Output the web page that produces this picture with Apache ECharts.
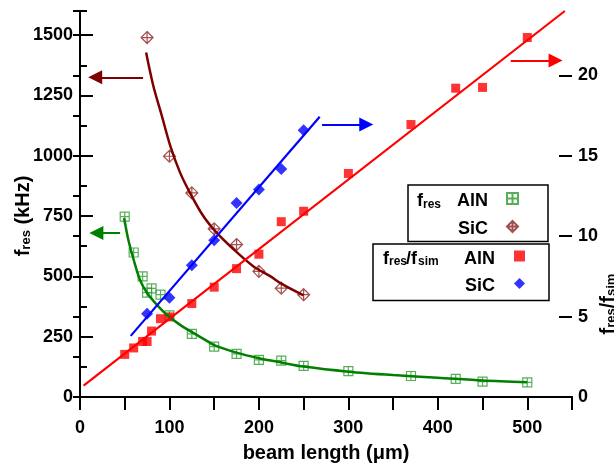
<!DOCTYPE html>
<html>
<head>
<meta charset="utf-8">
<script src="https://cdn.jsdelivr.net/npm/echarts@6/dist/echarts.min.js"></script>
<style>
  html, body { margin: 0; padding: 0; background: #fff; }
  #chart { width: 614px; height: 466px; }
</style>
</head>
<body>
<div id="chart"></div>
<script>
// beam lengths (um) of the measured cantilevers
var xAlN = [50, 60, 70, 75, 80, 90, 100, 125, 150, 175, 200, 225, 250, 300, 370, 420, 450, 500]
var xSiC = [75, 100, 125, 150, 175, 200, 225, 250]

// f_res in kHz (left axis)
var fresAlN = [748, 599, 500, 433, 450, 424, 338, 262, 209, 179, 154, 151, 129, 107, 87, 75, 64, 61]
var fresSiC = [1490, 998, 846, 697, 632, 521, 451, 424]

// f_res / f_sim (right axis)
var ratioAlN = [2.65, 3.05, 3.45, 3.45, 4.1, 4.87, 4.98, 5.81, 6.83, 7.98, 8.88, 10.9, 11.55, 13.9, 16.94, 19.2, 19.25, 22.35]
var ratioSiC = [5.17, 6.17, 8.19, 9.75, 12.06, 12.9, 14.17, 16.58]

// fitted curves
var fitAlNx = [49.3, 54, 60, 67, 75, 86, 97, 112, 127, 140, 150, 175, 200, 225, 250, 300, 350, 400, 450, 500]
var fitAlNy = [742, 652, 569, 486, 431, 382, 341, 299, 265, 237, 215, 184, 161, 143, 126, 105, 91, 80, 68, 61]
var fitSiCx = [73.9, 82, 91.5, 101, 112, 123, 138, 153, 172, 194, 213, 225, 250]
var fitSiCy = [1428, 1289, 1165, 1040, 929, 846, 749, 680, 611, 541, 500, 470, 421]
var fitRatioAlNx = [4, 542]
var fitRatioAlNy = [0.7, 24]
var fitRatioSiCx = [56.7, 268]
var fitRatioSiCy = [3.8, 17.43]

// tick labels
var xTicks = [0, 100, 200, 300, 400, 500]
var leftTicks = [0, 250, 500, 750, 1000, 1250, 1500]
var rightTicks = [0, 5, 10, 15, 20]

var FONT = '"Liberation Sans", Arial, sans-serif'
var GREEN = '#008000'
var GREEN_MK = '#2f9a2f'
var DRED = '#7f0000'
var DRED_MK = '#8b2323'
var RED = '#ff0000'
var BLUE = '#0000ff'

function zip (xs, ys) {
  return xs.map(function (x, i) { return [x, ys[i]] })
}

var titleRich = {
  f: { fontSize: 20, fontWeight: 'bold', fontFamily: FONT, color: '#000', lineHeight: 30, verticalAlign: 'bottom' },
  s: { fontSize: 13, fontWeight: 'bold', fontFamily: FONT, color: '#000', lineHeight: 6, verticalAlign: 'bottom' }
}

function tok (size, width, extra) {
  var t = { fontSize: size, fontWeight: 'bold', fontFamily: FONT, color: '#000', align: 'left', verticalAlign: 'bottom', lineHeight: size > 14 ? 24 : 6, width: width }
  return Object.assign(t, extra || {})
}

var legendRich = {
  f: tok(18, 6),
  s: tok(12, 17),
  s1: tok(12, 28),
  sl: tok(18, 12),
  s2: tok(12, 40),
  n: tok(18, 37, { align: 'right' }),
  m1: tok(18, 71, { align: 'right' }),
  m2: tok(18, 112, { align: 'right' }),
  g: tok(18, 14, { align: 'right' })
}

var legendLabels = {
  'AlN fres': '{f|f}{s1|res}{n|AlN}{g| }',
  'SiC fres': '{m1|SiC}{g| }',
  'AlN ratio': '{f|f}{s|res}{sl|/f}{s2|sim}{n|AlN}{g| }',
  'SiC ratio': '{m2|SiC}{g| }'
}

var boxSym = 'path://M0,0 L10,0 L10,10 L0,10 Z M5,0 L5,10 M0,5 L10,5'
var diaSym = 'path://M5,0 L10,5 L5,10 L0,5 Z M5,0 L5,10 M0,5 L10,5'

function arrow (color, from, to) {
  return {
    silent: true,
    symbol: ['none', 'triangle'],
    symbolSize: 14,
    label: { show: false },
    lineStyle: { color: color, width: 2, type: 'solid' },
    emphasis: { disabled: true },
    data: [[{ coord: from }, { coord: to }]]
  }
}

function plain (v) { return String(v) }

var axisLineStyle = { show: true, lineStyle: { color: '#000', width: 2 } }
var labelStyle = { fontSize: 18, fontWeight: 'bold', fontFamily: FONT, color: '#000', formatter: plain }

var option = {
  animation: false,
  backgroundColor: '#fff',
  grid: { left: 80, right: 42, top: 11, bottom: 69, outerBoundsMode: 'none', containLabel: false },
  xAxis: [
    {
      type: 'value', position: 'bottom', min: 0, max: 550, interval: 50,
      splitLine: { show: false },
      axisLine: axisLineStyle,
      axisTick: { inside: false, length: 7, lineStyle: { width: 2, color: '#000' } },
      axisLabel: Object.assign({ customValues: xTicks, margin: 22 }, labelStyle),
      name: 'beam length (\u03bcm)',
      nameLocation: 'middle',
      nameGap: 46,
      nameMoveOverlap: false,
      nameTextStyle: { fontSize: 20, fontWeight: 'bold', fontFamily: FONT, color: '#000' }
    },
    {
      type: 'value', position: 'bottom', min: 0, max: 550,
      splitLine: { show: false },
      axisLine: { show: false },
      axisTick: { inside: false, length: 13, customValues: xTicks, lineStyle: { width: 2, color: '#000' } },
      axisLabel: { show: false }
    },
    {
      type: 'value', position: 'top', min: 0, max: 550, interval: 50,
      splitLine: { show: false },
      axisLine: axisLineStyle,
      axisTick: { inside: true, length: 13, lineStyle: { width: 2, color: '#000' } },
      axisLabel: { show: false }
    }
  ],
  yAxis: [
    {
      type: 'value', position: 'left', min: 0, max: 1600, interval: 125,
      splitLine: { show: false },
      axisLine: axisLineStyle,
      axisTick: { inside: true, length: 7, lineStyle: { width: 2, color: '#000' } },
      axisLabel: Object.assign({ customValues: leftTicks, margin: 7 }, labelStyle),
      name: '{f|f}{s|res}{f| (kHz)}',
      nameLocation: 'middle',
      nameRotate: 90,
      nameGap: 47,
      nameMoveOverlap: false,
      nameTextStyle: { rich: titleRich, padding: [0, 24, 0, 0] }
    },
    {
      type: 'value', position: 'left', min: 0, max: 1600,
      splitLine: { show: false },
      axisLine: { show: false },
      axisTick: { inside: true, length: 13, customValues: leftTicks, lineStyle: { width: 2, color: '#000' } },
      axisLabel: { show: false }
    },
    {
      type: 'value', position: 'right', min: 0, max: 24, interval: 2.5,
      splitLine: { show: false },
      axisLine: axisLineStyle,
      axisTick: { inside: true, length: 7, lineStyle: { width: 2, color: '#000' } },
      axisLabel: Object.assign({ customValues: rightTicks, margin: 6 }, labelStyle)
    },
    {
      type: 'value', position: 'right', min: 0, max: 24,
      splitLine: { show: false },
      axisLine: { show: false },
      axisTick: { inside: true, length: 13, customValues: rightTicks, lineStyle: { width: 2, color: '#000' } },
      axisLabel: { show: false }
    }
  ],
  legend: [
    {
      data: ['AlN fres', 'SiC fres'],
      orient: 'vertical', align: 'right',
      left: 408, top: 185,
      padding: [7, 29, 3, 9],
      itemGap: 9.5, itemWidth: 11, itemHeight: 11,
      backgroundColor: '#fff', borderColor: '#000', borderWidth: 1.5,
      selectedMode: false,
      formatter: function (name) { return legendLabels[name] },
      textStyle: { color: '#000', rich: legendRich }
    },
    {
      data: ['AlN ratio', 'SiC ratio'],
      orient: 'vertical', align: 'right',
      left: 373, top: 244,
      padding: [6, 24, 5, 10],
      itemGap: 9.5, itemWidth: 11, itemHeight: 11,
      backgroundColor: '#fff', borderColor: '#000', borderWidth: 1.5,
      selectedMode: false,
      formatter: function (name) { return legendLabels[name] },
      textStyle: { color: '#000', rich: legendRich }
    }
  ],
  graphic: [
    {
      type: 'text',
      x: 603, y: 304,
      rotation: Math.PI / 2,
      style: {
        text: '{f|f}{s|res}{f|/f}{s|sim}',
        rich: titleRich,
        align: 'center',
        verticalAlign: 'middle'
      }
    }
  ],
  series: [
    {
      name: 'AlN fit', type: 'line', xAxisIndex: 0, yAxisIndex: 0,
      data: zip(fitAlNx, fitAlNy), smooth: 0.3, showSymbol: false, symbol: 'none',
      lineStyle: { color: GREEN, width: 2.5 },
      markLine: arrow(GREEN, [44.8, 680], [18.3, 680])
    },
    {
      name: 'SiC fit', type: 'line', xAxisIndex: 0, yAxisIndex: 0,
      data: zip(fitSiCx, fitSiCy), smooth: 0.3, showSymbol: false, symbol: 'none',
      lineStyle: { color: DRED, width: 2.5 },
      markLine: arrow(DRED, [70.5, 1325], [17, 1325])
    },
    {
      name: 'AlN ratio fit', type: 'line', xAxisIndex: 0, yAxisIndex: 2,
      data: zip(fitRatioAlNx, fitRatioAlNy), showSymbol: false, symbol: 'none',
      lineStyle: { color: RED, width: 2.2 },
      markLine: arrow(RED, [481.5, 20.93], [531.6, 20.93])
    },
    {
      name: 'SiC ratio fit', type: 'line', xAxisIndex: 0, yAxisIndex: 2,
      data: zip(fitRatioSiCx, fitRatioSiCy), showSymbol: false, symbol: 'none',
      lineStyle: { color: BLUE, width: 2.2 },
      markLine: arrow(BLUE, [270.6, 16.95], [320, 16.95])
    },
    {
      name: 'AlN fres', type: 'scatter', xAxisIndex: 0, yAxisIndex: 0,
      data: zip(xAlN, fresAlN), symbol: boxSym, symbolSize: 9,
      itemStyle: { color: 'rgba(0,0,0,0)', borderColor: GREEN_MK, borderWidth: 1.2 }
    },
    {
      name: 'SiC fres', type: 'scatter', xAxisIndex: 0, yAxisIndex: 0,
      data: zip(xSiC, fresSiC), symbol: diaSym, symbolSize: 12,
      itemStyle: { color: 'rgba(0,0,0,0)', borderColor: DRED_MK, borderWidth: 1.2 }
    },
    {
      name: 'AlN ratio', type: 'scatter', xAxisIndex: 0, yAxisIndex: 2,
      data: zip(xAlN, ratioAlN), symbol: 'rect', symbolSize: 9,
      itemStyle: { color: RED }
    },
    {
      name: 'SiC ratio', type: 'scatter', xAxisIndex: 0, yAxisIndex: 2,
      data: zip(xSiC, ratioSiC), symbol: 'diamond', symbolSize: 12,
      itemStyle: { color: BLUE }
    }
  ]
}

var chart = echarts.init(document.getElementById('chart'))
chart.setOption(option)
</script>
</body>
</html>
